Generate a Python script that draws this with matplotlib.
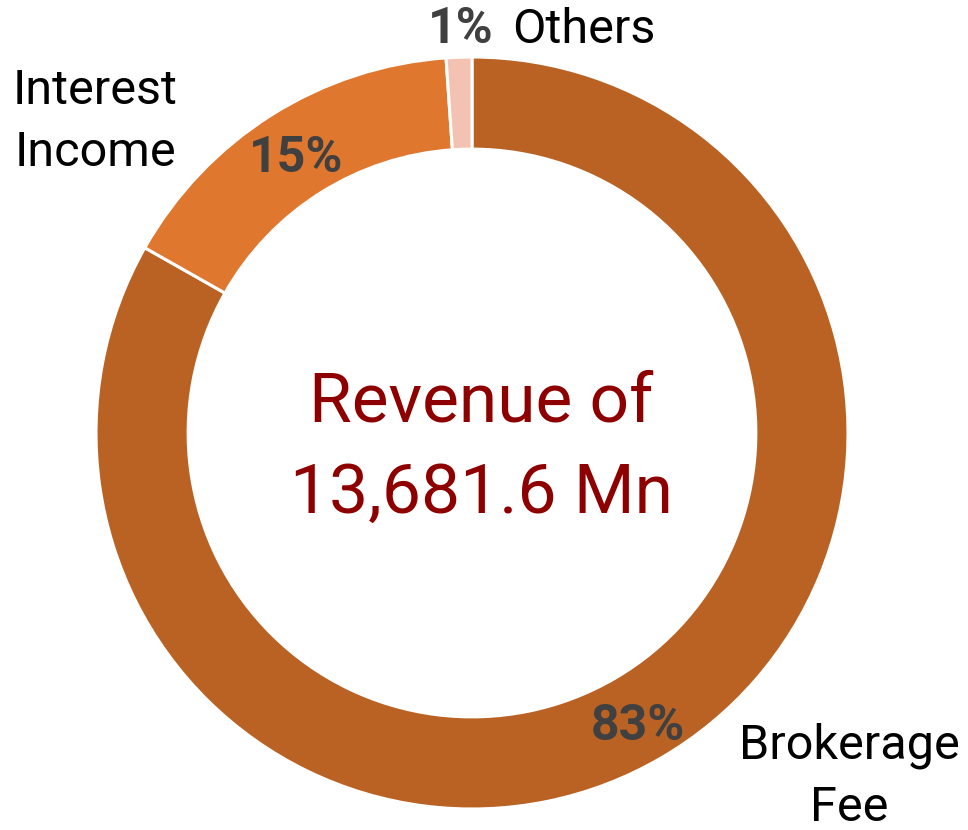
import matplotlib.pyplot as plt

# revenue split (share of total, %)
segments = ["Brokerage\nFee", "Interest\nIncome", "Others"]
shares = [83.2, 15.7, 1.1]
pct_labels = ["83%", "15%", "1%"]
colors = ["#B96224", "#DF772F", "#F4C2B2"]
center_text = "Revenue of\n13,681.6 Mn"

plt.rcParams['font.family'] = ['Roboto', 'DejaVu Sans']

fig = plt.figure(figsize=(9.68, 8.3), dpi=100)
# square box in pixels so the ring is round
ax = fig.add_axes([96 / 968, 21 / 830, 752 / 968, 752 / 830])

wedges, _ = ax.pie(shares, colors=colors, startangle=90, counterclock=False,
                   radius=1, wedgeprops=dict(width=0.245, edgecolor='white', linewidth=2.2),
                   frame=True)
ax.set_xlim(-1, 1)
ax.set_ylim(-1, 1)
ax.axis('off')


def px(x, y):
    # pixel position in the picture -> data coords of the pie axes
    return (x - 472) / 376, (433 - y) / 376


lab_kw = dict(fontsize=35, color='black', ha='center', va='center', clip_on=False)
pct_kw = dict(fontsize=36, color='#404040', fontweight='bold', ha='center', va='center', clip_on=False)

# brokerage
ax.text(*px(638, 726), pct_labels[0], **pct_kw)
ax.text(*px(849, 777), segments[0], linespacing=1.45, **lab_kw)
# interest income
ax.text(*px(296, 159), pct_labels[1], **pct_kw)
ax.text(*px(95, 122), segments[1], linespacing=1.45, **lab_kw)
# others
ax.text(*px(494, 30), pct_labels[2], **{**pct_kw, 'ha': 'right'})
ax.text(*px(512, 30), segments[2], **{**lab_kw, 'ha': 'left'})

ax.text(*px(481, 448), center_text, fontsize=50, color='#8E0000',
        ha='center', va='center', linespacing=1.5)

fig.savefig('out.png', dpi=100)
